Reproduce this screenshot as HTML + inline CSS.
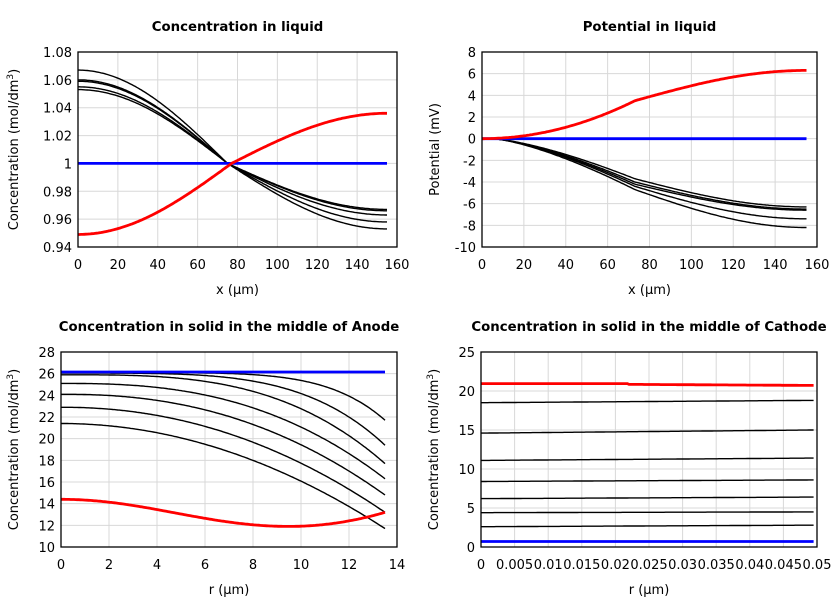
<!DOCTYPE html>
<html><head><meta charset="utf-8"><style>
body{margin:0;background:#fff;}
svg{display:block;font-family:"DejaVu Sans","Liberation Sans",sans-serif;}
</style></head><body>
<svg id="s" width="840" height="600" xmlns="http://www.w3.org/2000/svg"></svg>
<script>
var s=document.getElementById('s'),h='';
function panel(o){
 var X=function(v){return o.x0+(v-o.xmin)/(o.xmax-o.xmin)*(o.x1-o.x0)};
 var Y=function(v){return o.y1-(v-o.ymin)/(o.ymax-o.ymin)*(o.y1-o.y0)};
 h+='<text x="'+((o.x0+o.x1)/2)+'" y="'+(o.y0-21)+'" text-anchor="middle" font-size="13.3" font-weight="bold">'+o.title+'</text>';
 o.xt.forEach(function(t,i){var px=X(t);
  h+='<line x1="'+px+'" x2="'+px+'" y1="'+o.y0+'" y2="'+o.y1+'" stroke="#d8d8d8"/>';
  h+='<text x="'+px+'" y="'+(o.y1+22)+'" text-anchor="middle" font-size="13">'+o.xl[i]+'</text>';});
 o.yt.forEach(function(t,i){var py=Y(t);
  h+='<line x1="'+o.x0+'" x2="'+o.x1+'" y1="'+py+'" y2="'+py+'" stroke="#d8d8d8"/>';
  h+='<text x="'+(o.x0-6)+'" y="'+(py+5)+'" text-anchor="end" font-size="13">'+o.yl[i]+'</text>';});
 o.series.forEach(function(sr){var d='';
  for(var i=0;i<=200;i++){var v=sr.a+(sr.b-sr.a)*i/200;d+=(i?'L':'M')+X(v).toFixed(1)+' '+Y(sr.f(v)).toFixed(1);}
  h+='<path d="'+d+'" fill="none" stroke="'+sr.c+'" stroke-width="'+sr.w+'"/>';});
 h+='<rect x="'+o.x0+'" y="'+o.y0+'" width="'+(o.x1-o.x0)+'" height="'+(o.y1-o.y0)+'" fill="none" stroke="#000" stroke-width="1.3"/>';
 h+='<text x="'+((o.x0+o.x1)/2)+'" y="'+(o.y1+47)+'" text-anchor="middle" font-size="13">'+o.xlab+'</text>';
 var cy=(o.y0+o.y1)/2;
 h+='<text transform="translate('+(o.lx)+','+cy+') rotate(-90)" text-anchor="middle" font-size="13">'+o.ylab+'</text>';
}
function rng(a,b,s){var r=[];for(var v=a;v<=b+1e-9;v+=s)r.push(+v.toFixed(6));return r;}
var conc='Concentration (mol/dm<tspan dy="-5" font-size="9">3</tspan><tspan dy="5">)</tspan>';
var s1=[];
[[1.067,0.966],[1.060,0.967],[1.059,0.963],[1.055,0.958],[1.053,0.953]].forEach(function(p){
 s1.push({a:0,b:155,c:'#000',w:1.4,f:function(x){return x<75?1+(p[0]-1)*Math.sin((75-x)/75*Math.PI/2):1-(1-p[1])*Math.sin(Math.min((x-75)/80,1)*Math.PI/2);}});});
s1.push({a:0,b:155,c:'#00f',w:2.8,f:function(){return 1}});
s1.push({a:0,b:155,c:'#f00',w:2.8,f:function(x){return x<77?1-0.051*Math.sin((77-x)/77*Math.PI/2):1+0.036*Math.sin((x-77)/78*Math.PI/2);}});
panel({x0:78,x1:397,y0:52,y1:247,xmin:0,xmax:160,ymin:0.94,ymax:1.08,title:'Concentration in liquid',
 xt:rng(0,160,20),xl:rng(0,160,20),yt:rng(0.94,1.08,0.02),yl:['0.94','0.96','0.98','1','1.02','1.04','1.06','1.08'],
 xlab:'x (µm)',ylab:conc,lx:18,series:s1});
var s2=[];
[[3.7,6.3],[4.0,6.5],[4.2,6.6],[4.4,7.4],[4.7,8.2]].forEach(function(p){
 s2.push({a:0,b:155,c:'#000',w:1.4,f:function(x){if(x<73){var t=Math.max(0,(x-5)/68);return -p[0]*Math.pow(t,1.4);}var u=(x-73)/82;return -p[0]-(p[1]-p[0])*Math.sin(u*Math.PI/2);}});});
s2.push({a:0,b:155,c:'#00f',w:2.8,f:function(){return 0}});
s2.push({a:0,b:155,c:'#f00',w:2.8,f:function(x){if(x<73)return 3.5*Math.pow(x/73,2);var u=(x-73)/82;return 3.5+2.8*Math.sin(u*Math.PI/2);}});
panel({x0:482,x1:817,y0:52,y1:247,xmin:0,xmax:160,ymin:-10,ymax:8,title:'Potential in liquid',
 xt:rng(0,160,20),xl:rng(0,160,20),yt:rng(-10,8,2),yl:rng(-10,8,2),
 xlab:'x (µm)',ylab:'Potential (mV)',lx:439,series:s2});
var s3=[];
[[26.1,21.7,6],[26.05,19.4,4.2],[25.9,17.7,3.2],[25.1,16.3,2.6],[24.1,14.8,2.3],[22.9,13.2,2.1],[21.4,11.7,2.0]].forEach(function(p){
 s3.push({a:0,b:13.5,c:'#000',w:1.4,f:function(r){var t=r/13.5;return p[0]-(p[0]-p[1])*Math.pow(t,p[2]);}});});
s3.push({a:0,b:13.5,c:'#00f',w:2.8,f:function(){return 26.15}});
s3.push({a:0,b:13.5,c:'#f00',w:2.8,f:function(r){return r<9.5?13.15+1.25*Math.cos(Math.PI*r/9.5):11.9+1.3*Math.pow((r-9.5)/4,2);}});
panel({x0:61,x1:397,y0:352,y1:547,xmin:0,xmax:14,ymin:10,ymax:28,title:'Concentration in solid in the middle of Anode',
 xt:rng(0,14,2),xl:rng(0,14,2),yt:rng(10,28,2),yl:rng(10,28,2),
 xlab:'r (µm)',ylab:conc,lx:18,series:s3});
var s4=[];
[[18.5,18.8],[14.6,15.0],[11.1,11.4],[8.4,8.6],[6.2,6.4],[4.4,4.5],[2.6,2.8]].forEach(function(p){
 s4.push({a:0,b:0.0495,c:'#000',w:1.4,f:function(r){return p[0]+(p[1]-p[0])*r/0.0495;}});});
s4.push({a:0,b:0.0495,c:'#00f',w:2.8,f:function(){return 0.7}});
s4.push({a:0,b:0.0495,c:'#f00',w:2.8,f:function(r){return r<0.022?20.95:20.85-(r-0.022)*5;}});
panel({x0:481,x1:817,y0:352,y1:547,xmin:0,xmax:0.05,ymin:0,ymax:25,title:'Concentration in solid in the middle of Cathode',
 xt:rng(0,0.05,0.005),xl:['0','0.005','0.01','0.015','0.02','0.025','0.03','0.035','0.04','0.045','0.05'],yt:rng(0,25,5),yl:rng(0,25,5),
 xlab:'r (µm)',ylab:conc,lx:438,series:s4});
s.innerHTML=h;
</script>
</body></html>
